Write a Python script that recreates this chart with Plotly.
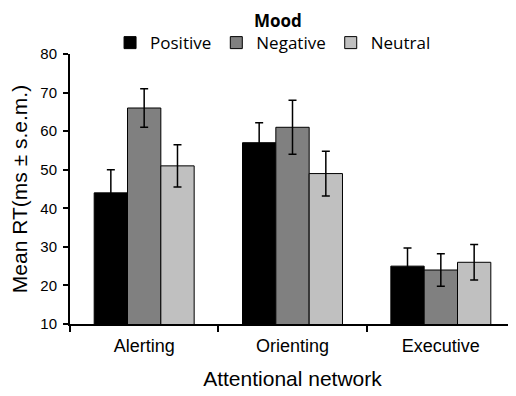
import plotly.graph_objects as go

categories = ["Alerting", "Orienting", "Executive"]
series_names = ["Positive", "Negative", "Neutral"]
positive = [44, 57, 25]
negative = [66, 61, 24]
neutral = [51, 49, 26]
positive_err = [6, 5.2, 4.7]
negative_err = [5, 7, 4.2]
neutral_err = [5.5, 5.8, 4.6]
y_ticks = [10, 20, 30, 40, 50, 60, 70, 80]

colors = ["#000000", "#808080", "#c0c0c0"]
values = [positive, negative, neutral]
errs = [positive_err, negative_err, neutral_err]

fig = go.Figure()
for name, vals, err, col in zip(series_names, values, errs, colors):
    fig.add_trace(go.Bar(
        x=categories, y=vals, name=name,
        marker=dict(color=col, line=dict(color="#000000", width=1)),
        error_y=dict(type="data", array=err, visible=True, color="#000000",
                     thickness=1.5, width=4),
    ))

# page has an 8px body margin, so the figure is 508x388 and offset by 8px
fig.update_layout(
    width=508, height=388,
    margin=dict(l=62, r=1, t=46, b=72, autoexpand=False),
    paper_bgcolor="white", plot_bgcolor="white",
    barmode="group", bargap=0.326, bargroupgap=0,
    font=dict(family="Liberation Sans, Arial, sans-serif", color="#000000"),
    showlegend=True,
    legend=dict(orientation="h", x=0.09, xanchor="left",
                yref="container", y=0.956, yanchor="top",
                font=dict(family="Open Sans, sans-serif", size=17, color="#000000"),
                itemwidth=30, tracegroupgap=0, traceorder="normal"),
    annotations=[dict(text="<b>Mood</b>", x=0.467, y=316 / 270, xref="paper", yref="paper",
                      showarrow=False, xanchor="center", yanchor="top", borderpad=0,
                      font=dict(family="Open Sans, sans-serif", size=17, color="#000000"))],
    xaxis=dict(
        automargin=False,
        showline=True, linecolor="#000000", linewidth=1.5,
        ticks="outside", tickson="boundaries", ticklen=6, tickwidth=1.5, tickcolor="#000000",
        tickfont=dict(size=18), ticklabelstandoff=5,
        title=dict(text="Attentional network", font=dict(size=21), standoff=16),
        showgrid=False, zeroline=False,
    ),
    yaxis=dict(
        automargin=False,
        range=[10, 80], tickvals=y_ticks,
        showline=True, linecolor="#000000", linewidth=2,
        ticks="outside", ticklen=5, tickwidth=1.5, tickcolor="#000000",
        tickfont=dict(size=15), ticklabelstandoff=3,
        title=dict(text="Mean RT(ms ± s.e.m.)", font=dict(size=21), standoff=13),
        showgrid=False, zeroline=False,
    ),
)

fig.write_html("out.html")
